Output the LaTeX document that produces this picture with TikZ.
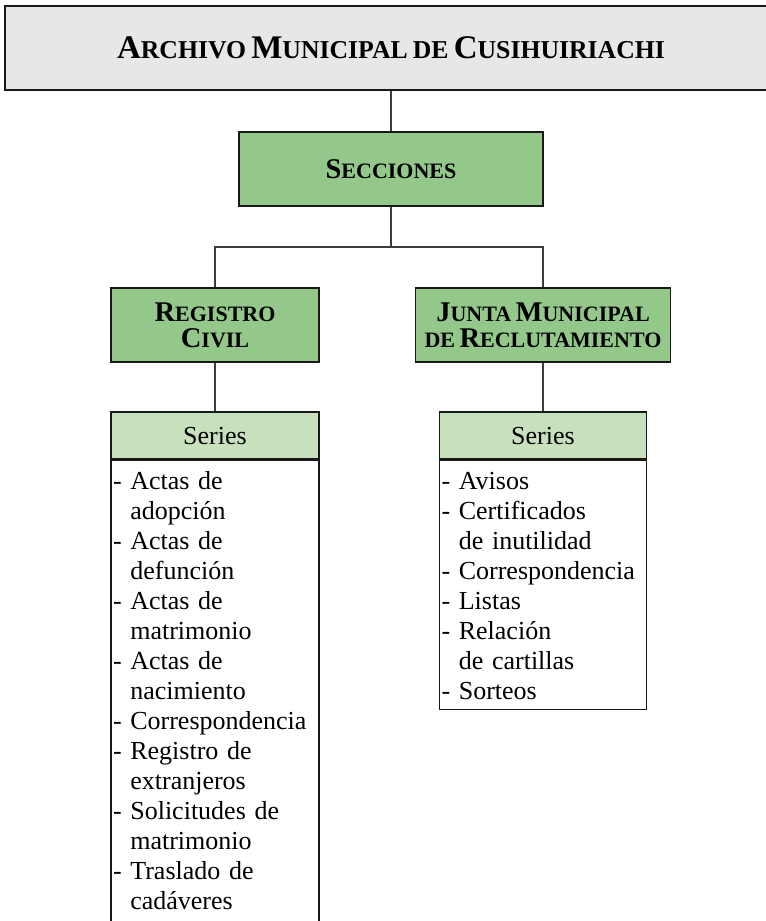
\documentclass[tikz,border=0pt]{standalone}
\usepackage{fontspec}
\setmainfont[WordSpace=0.8]{Liberation Serif}
\usetikzlibrary{positioning}

\definecolor{grisfondo}{HTML}{E6E7E8}
\definecolor{verde}{HTML}{93C88A}
\definecolor{verdeclaro}{HTML}{C8E0BC}
\definecolor{linea}{HTML}{3C3C3C}

% versalitas a mano: inicial grande y resto menor
\newcommand{\versal}[2]{{\fontsize{21.4pt}{19.5pt}\selectfont #1}{\fontsize{16.5pt}{19.5pt}\selectfont #2}}
\newcommand{\versalg}[2]{{\fontsize{24.75pt}{24pt}\selectfont #1}{\fontsize{19.3pt}{24pt}\selectfont #2}}
\newcommand{\sangria}{\phantom{-}\ }
\newcommand{\primera}{\rule{0pt}{21.75pt}}
\newcommand{\ultima}[1]{\rule[-#1]{0pt}{#1}}

\tikzset{
  caja/.style={draw=black!90, line width=1.1pt, inner sep=0pt, align=center},
  seccion/.style={caja, fill=verde, minimum height=55.5pt, font=\bfseries\fontsize{16.5pt}{19.5pt}\selectfont},
  serie/.style={caja, fill=verdeclaro, minimum height=35.25pt, text depth=0pt, font=\fontsize{19.5pt}{22.5pt}\selectfont},
  lista/.style={draw=black!90, line width=1.1pt, fill=white, anchor=north, inner ysep=0pt, inner xsep=1.5pt, align=left, font=\fontsize{19.5pt}{22.5pt}\selectfont},
  conector/.style={draw=linea, line width=1.1pt}
}

\begin{document}
\begin{tikzpicture}[x=0.75pt, y=-0.75pt]
  \useasboundingbox (0,0) rectangle (766,921);

  \node[caja, fill=grisfondo, minimum width=579pt, minimum height=63pt, font=\bfseries\fontsize{19.3pt}{24pt}\selectfont] (archivo) at (391,48)
    {\versalg{A}{RCHIVO} \versalg{M}{UNICIPAL} \versalg{}{DE} \versalg{C}{USIHUIRIACHI}};

  \node[seccion, minimum width=228pt] (secciones) at (391,169) {\versal{S}{ECCIONES}};
  \node[seccion, minimum width=156pt] (registro) at (215,325) {\versal{R}{EGISTRO}\\\versal{C}{IVIL}};
  \node[seccion, minimum width=191.25pt] (junta) at (543,325) {\versal{J}{UNTA} \versal{M}{UNICIPAL}\\\versal{}{DE} \versal{R}{ECLUTAMIENTO}};

  \node[serie, minimum width=156pt] (serieA) at (215,435.5) {Series};
  \node[serie, minimum width=155.25pt] (serieB) at (543,435.5) {Series};

  \node[lista, minimum width=156pt, text width=153pt] (listaA) at (serieA.south)
    {\primera- Actas de\\\sangria adopción\\
     - Actas de\\\sangria defunción\\
     - Actas de\\\sangria matrimonio\\
     - Actas de\\\sangria nacimiento\\
     - Correspondencia\\
     - Registro de\\\sangria extranjeros\\
     - Solicitudes de\\\sangria matrimonio\\
     - Traslado de\\\sangria cadáveres\ultima{22pt}};
  \node[lista, minimum width=155.25pt, text width=152.25pt] (listaB) at (serieB.south)
    {\primera- Avisos\\
     - Certificados\\\sangria de inutilidad\\
     - Correspondencia\\
     - Listas\\
     - Relación\\\sangria de cartillas\\
     - Sorteos\ultima{7.5pt}};

  % conectores
  \coordinate (barra) at (391,247);
  \draw[conector] (archivo.south) -- (secciones.north);
  \draw[conector] (secciones.south) -- (barra);
  \draw[conector] (registro.north) |- (barra) -| (junta.north);
  \draw[conector] (registro.south) -- (serieA.north);
  \draw[conector] (junta.south) -- (serieB.north);
\end{tikzpicture}
\end{document}
